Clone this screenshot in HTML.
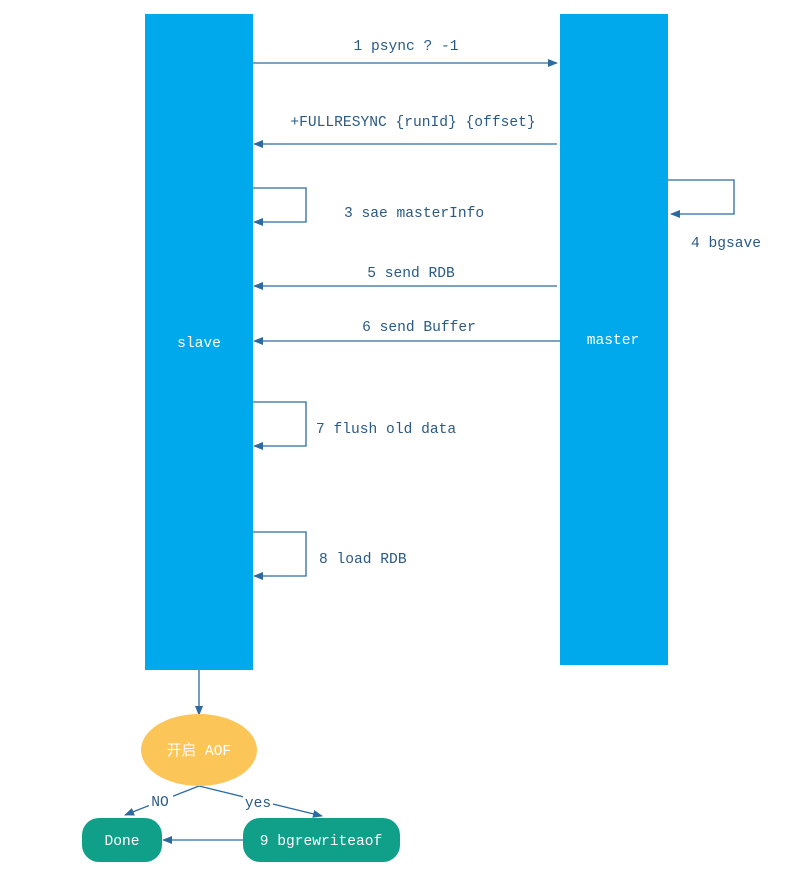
<!DOCTYPE html>
<html><head><meta charset="utf-8"><style>
html,body{margin:0;padding:0;background:#fff;}
text{font-family:"Liberation Mono","Noto Sans CJK SC",monospace;font-size:14.6px;}
</style></head><body>
<svg width="788" height="888" viewBox="0 0 788 888" xmlns="http://www.w3.org/2000/svg">
<defs>
<marker id="a" markerWidth="10" markerHeight="8" refX="9" refY="4" orient="auto" markerUnits="userSpaceOnUse">
<path d="M0,0 L10,4 L0,8 Z" fill="#2d6aa0"/></marker>
</defs>
<rect x="145" y="14" width="108" height="656" fill="#00a9ec"/>
<rect x="560" y="14" width="108" height="651" fill="#00a9ec"/>
<text x="199" y="347" fill="#fff" text-anchor="middle">slave</text>
<text x="613" y="344" fill="#fff" text-anchor="middle">master</text>
<g stroke="#2d6aa0" stroke-width="1.3" fill="none">
<line x1="253" y1="63" x2="557" y2="63" marker-end="url(#a)"/>
<line x1="557" y1="144" x2="254" y2="144" marker-end="url(#a)"/>
<polyline points="253,188 306,188 306,222 254,222" marker-end="url(#a)"/>
<polyline points="668,180 734,180 734,214 671,214" marker-end="url(#a)"/>
<line x1="557" y1="286" x2="254" y2="286" marker-end="url(#a)"/>
<line x1="560" y1="341" x2="254" y2="341" marker-end="url(#a)"/>
<polyline points="253,402 306,402 306,446 254,446" marker-end="url(#a)"/>
<polyline points="253,532 306,532 306,576 254,576" marker-end="url(#a)"/>
<line x1="199" y1="670" x2="199" y2="715" marker-end="url(#a)"/>
<polyline points="199,786 125,815" marker-end="url(#a)"/>
<polyline points="199,786 322,816" marker-end="url(#a)"/>
<line x1="243" y1="840" x2="163" y2="840" marker-end="url(#a)"/>
</g>
<g fill="#2a5a85">
<text x="406" y="50" text-anchor="middle">1 psync ? -1</text>
<text x="413" y="126" text-anchor="middle">+FULLRESYNC {runId} {offset}</text>
<text x="344" y="217">3 sae masterInfo</text>
<text x="691" y="247">4 bgsave</text>
<text x="411" y="277" text-anchor="middle">5 send RDB</text>
<text x="419" y="331" text-anchor="middle">6 send Buffer</text>
<text x="316" y="433">7 flush old data</text>
<text x="319" y="563">8 load RDB</text>
</g>
<ellipse cx="199" cy="750" rx="58" ry="36" fill="#fcc557"/>
<text x="199" y="755" fill="#fff" text-anchor="middle">开启 AOF</text>
<rect x="149" y="794" width="24" height="14" fill="#fff"/>
<text x="160" y="806" fill="#2a5a85" text-anchor="middle">NO</text>
<rect x="243" y="795" width="30" height="14" fill="#fff"/>
<text x="258" y="807" fill="#2a5a85" text-anchor="middle">yes</text>
<rect x="82" y="818" width="80" height="44" rx="17" fill="#10a08a"/>
<text x="122" y="845" fill="#fff" text-anchor="middle">Done</text>
<rect x="243" y="818" width="157" height="44" rx="17" fill="#10a08a"/>
<text x="321" y="845" fill="#fff" text-anchor="middle">9 bgrewriteaof</text>
</svg>
</body></html>
